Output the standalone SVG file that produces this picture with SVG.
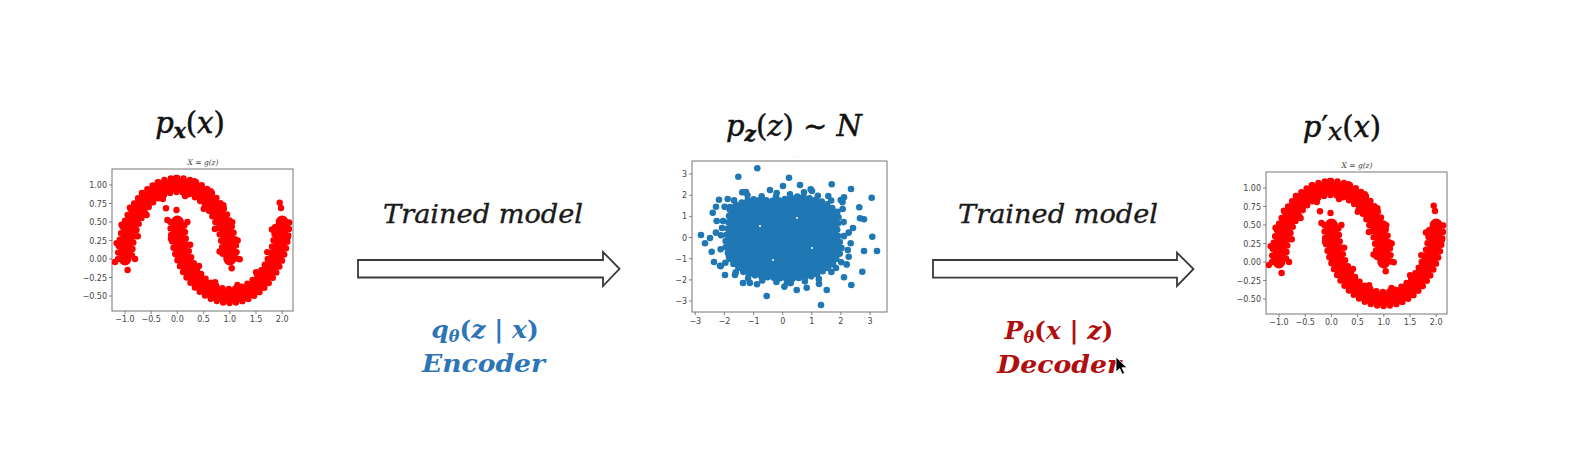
<svg xmlns="http://www.w3.org/2000/svg" xmlns:xlink="http://www.w3.org/1999/xlink" width="1594" height="455" viewBox="0 0 1594 455">
<style>
.frame{fill:#fff;stroke:#777;stroke-width:1}
.tick{stroke:#666;stroke-width:0.8}
.tl{font-family:"DejaVu Sans","Liberation Sans",sans-serif;font-size:8px;fill:#444}
.tle{text-anchor:end}
.tlm{text-anchor:middle}
.ptitle{font-family:"DejaVu Serif","Liberation Serif",serif;font-size:7.5px;font-style:italic;fill:#444;text-anchor:middle}
.mc{fill:none;stroke:#f00;stroke-width:13;stroke-linecap:round}
.md{fill:none;stroke:#f00;stroke-width:6.4;stroke-linecap:round;stroke-dasharray:0 6.5}
.ms{fill:none;stroke:#f00;stroke-width:6.4;stroke-linecap:round;stroke-dasharray:0 19}
.rd{fill:#f00}
.bd{fill:#1f77b4}
.bring{fill:none;stroke:#1f77b4;stroke-width:6.6;stroke-linecap:round;stroke-linejoin:round}
.head{font-family:"DejaVu Serif","Liberation Serif",serif;font-size:29px;fill:#111;stroke:#111;stroke-width:0.5;text-anchor:middle}
.it{font-style:italic}
.lbl{font-family:"DejaVu Serif","Liberation Serif",serif;font-size:26px;font-style:italic;fill:#1a1a1a;stroke:#1a1a1a;stroke-width:0.35;text-anchor:middle}
.enc{font-family:"DejaVu Serif","Liberation Serif",serif;font-size:25px;font-weight:bold;fill:#2e75b6;text-anchor:middle}
.dec{font-family:"DejaVu Serif","Liberation Serif",serif;font-size:25px;font-weight:bold;fill:#b00f0f;text-anchor:middle}
.arrow{fill:#fff;stroke:#3a3a3a;stroke-width:1.8;stroke-linejoin:miter}
</style>
<defs>
<g id="moonPlot">
<rect class="frame" x="112" y="169" width="181" height="142"/>
<text class="ptitle" x="203" y="165">X = g(z)</text>
<path class="tick" d="M109 185H112M109 203.5H112M109 222H112M109 240.5H112M109 259H112M109 277.5H112M109 296H112M125 311V314M151.2 311V314M177.4 311V314M203.6 311V314M229.8 311V314M256 311V314M282.2 311V314"/>
<text class="tl tle" x="107" y="188">1.00</text>
<text class="tl tle" x="107" y="206.5">0.75</text>
<text class="tl tle" x="107" y="225">0.50</text>
<text class="tl tle" x="107" y="243.5">0.25</text>
<text class="tl tle" x="107" y="262">0.00</text>
<text class="tl tle" x="107" y="280.5">−0.25</text>
<text class="tl tle" x="107" y="299">−0.50</text>
<text class="tl tlm" x="125" y="322">−1.0</text>
<text class="tl tlm" x="151.2" y="322">−0.5</text>
<text class="tl tlm" x="177.4" y="322">0.0</text>
<text class="tl tlm" x="203.6" y="322">0.5</text>
<text class="tl tlm" x="229.8" y="322">1.0</text>
<text class="tl tlm" x="256" y="322">1.5</text>
<text class="tl tlm" x="282.2" y="322">2.0</text>
<path class="mc" d="M125 259A52.4 74 0 0 1 229.8 259"/>
<path class="md" d="M118 259A59.4 81 0 0 1 236.8 259"/>
<path class="md" style="stroke-dashoffset:3" d="M132 259A45.4 67 0 0 1 222.8 259"/>
<path class="ms" d="M115 262A62.4 84 0 0 1 239.8 262"/>
<path class="ms" style="stroke-dasharray:0 23" d="M135 259A42.4 64 0 0 1 219.8 259"/>
<path class="mc" d="M177.4 222A52.4 74 0 0 0 282.2 222"/>
<path class="md" d="M170.4 222A59.4 81 0 0 0 289.2 222"/>
<path class="md" style="stroke-dashoffset:3" d="M184.4 222A45.4 67 0 0 0 275.2 222"/>
<path class="ms" d="M167.4 220A62.4 84 0 0 0 291 220"/>
<path class="ms" style="stroke-dasharray:0 23" d="M187.4 222A42.4 64 0 0 0 272.2 222"/>
<circle class="rd" cx="127.6" cy="270" r="3.2"/>
<circle class="rd" cx="166" cy="208.3" r="3.2"/>
<circle class="rd" cx="146" cy="205" r="3.2"/>
<circle class="rd" cx="279.7" cy="202.7" r="3.2"/>
<circle class="rd" cx="281" cy="208" r="3.2"/>
<circle class="rd" cx="223.3" cy="249" r="3.2"/>
<circle class="rd" cx="231.7" cy="268.3" r="3.2"/>
<circle class="rd" cx="177" cy="182" r="3.2"/>
<circle class="rd" cx="176.5" cy="210" r="3.2"/>
</g>
<path id="blob" d="M730 207L751 199L775 201L800 196L824 202L839 213L837 232L842 250L832 266L814 276L790 279L766 277L746 274L731 262L725 245L728 226Z"/>
</defs>

<g id="node-px">
<text class="head" x="190" y="133"><tspan class="it">p</tspan><tspan class="it" font-size="20" font-weight="bold" dy="5">x</tspan><tspan dy="-5">(</tspan><tspan class="it">x</tspan>)</text>
<use xlink:href="#moonPlot"/>
</g>

<g id="node-pz">
<text class="head" x="794" y="136"><tspan class="it">p</tspan><tspan class="it" font-size="20" font-weight="bold" dy="5">z</tspan><tspan dy="-5">(</tspan><tspan class="it">z</tspan>) ∼ <tspan class="it">N</tspan></text>
<text x="789" y="159" style="font-family:'DejaVu Sans',sans-serif;font-size:6px;fill:#bbb">· · ·</text>
<rect class="frame" x="692" y="161" width="195" height="151"/>
<path class="tick" d="M689 174H692M689 195.3H692M689 216.4H692M689 237.5H692M689 258.7H692M689 279.9H692M689 301H692M695.3 312V315M724.4 312V315M753.6 312V315M782.7 312V315M811.8 312V315M840.9 312V315M870 312V315"/>
<text class="tl tle" x="687" y="177">3</text>
<text class="tl tle" x="687" y="198.3">2</text>
<text class="tl tle" x="687" y="219.4">1</text>
<text class="tl tle" x="687" y="240.5">0</text>
<text class="tl tle" x="687" y="261.7">−1</text>
<text class="tl tle" x="687" y="282.9">−2</text>
<text class="tl tle" x="687" y="304">−3</text>
<text class="tl tlm" x="695.3" y="324">−3</text>
<text class="tl tlm" x="724.4" y="324">−2</text>
<text class="tl tlm" x="753.6" y="324">−1</text>
<text class="tl tlm" x="782.7" y="324">0</text>
<text class="tl tlm" x="811.8" y="324">1</text>
<text class="tl tlm" x="840.9" y="324">2</text>
<text class="tl tlm" x="870" y="324">3</text>
<use xlink:href="#blob" class="bd"/>
<use xlink:href="#blob" class="bring" style="stroke-dasharray:0 6.3"/>
<use xlink:href="#blob" class="bring" style="stroke-dasharray:0 13;stroke-dashoffset:4;stroke-width:6" transform="translate(781 238) scale(1.1) translate(-781 -238)"/>
<use xlink:href="#blob" class="bring" style="stroke-dasharray:0 29;stroke-dashoffset:9;stroke-width:5.6" transform="translate(781 238) scale(1.2) translate(-781 -238)"/>
<g class="bd">
<circle cx="757.3" cy="168.3" r="3.3"/><circle cx="738.3" cy="176.7" r="3.3"/><circle cx="789" cy="177.7" r="3.3"/>
<circle cx="800" cy="185" r="3.3"/><circle cx="831.7" cy="184.3" r="3.3"/><circle cx="851" cy="189" r="3.3"/>
<circle cx="871.7" cy="197.7" r="3.3"/><circle cx="701" cy="235" r="3.3"/><circle cx="710" cy="238" r="3.3"/>
<circle cx="719" cy="199.7" r="3.3"/><circle cx="727.7" cy="199" r="3.3"/><circle cx="716" cy="206.7" r="3.3"/>
<circle cx="712.7" cy="212.7" r="3.3"/><circle cx="716.7" cy="221" r="3.3"/><circle cx="859.3" cy="207.3" r="3.3"/>
<circle cx="860" cy="218.3" r="3.3"/><circle cx="864" cy="219.3" r="3.3"/><circle cx="872.3" cy="236.7" r="3.3"/>
<circle cx="877" cy="251" r="3.3"/><circle cx="864" cy="251" r="3.3"/><circle cx="862.3" cy="271.7" r="3.3"/>
<circle cx="851.3" cy="285" r="3.3"/><circle cx="826.7" cy="290" r="3.3"/><circle cx="821" cy="305" r="3.3"/>
<circle cx="766.7" cy="296" r="3.3"/><circle cx="757" cy="284.3" r="3.3"/><circle cx="720" cy="265.7" r="3.3"/>
<circle cx="714" cy="262" r="3.3"/><circle cx="725" cy="275" r="3.3"/><circle cx="735" cy="275" r="3.3"/>
<circle cx="844" cy="277.3" r="3.3"/><circle cx="850.7" cy="243.3" r="3.3"/><circle cx="848.7" cy="256.7" r="3.3"/>
<circle cx="806.7" cy="287.7" r="3.3"/><circle cx="796.7" cy="290" r="3.3"/><circle cx="711.7" cy="251.7" r="3.3"/>
<circle cx="705" cy="243.3" r="3.3"/><circle cx="828.3" cy="196" r="3.3"/><circle cx="840.7" cy="200" r="3.3"/>
<circle cx="844" cy="197.3" r="3.3"/><circle cx="770" cy="190" r="3.3"/><circle cx="746" cy="192" r="3.3"/>
<circle cx="812" cy="191" r="3.3"/><circle cx="853" cy="228" r="3.3"/><circle cx="722" cy="228" r="3.3"/>
<circle cx="729" cy="257" r="3.3"/><circle cx="743" cy="283" r="3.3"/><circle cx="787" cy="283" r="3.3"/>
<circle cx="836" cy="268" r="3.3"/><circle cx="783" cy="186" r="3.3"/>
</g>
<g fill="#fff">
<circle cx="760" cy="226" r="1.1"/><circle cx="797" cy="218" r="1"/><circle cx="812" cy="248" r="1.1"/>
<circle cx="773" cy="260" r="1"/>
</g>
</g>

<g id="node-pxprime">
<text class="head" x="1342" y="137"><tspan class="it">p</tspan>′<tspan class="it" font-size="25" dy="3">x</tspan><tspan dy="-3">(</tspan><tspan class="it">x</tspan>)</text>
<use xlink:href="#moonPlot" transform="translate(1154 3)"/>
</g>

<g id="connectors">
<g id="encoder-arrow">
<path class="arrow" d="M358 260H603V252L619.5 268.8L603 286V277.5H358Z"/>
<text class="lbl" x="483" y="223" textLength="200" lengthAdjust="spacingAndGlyphs">Trained model</text>
<text class="enc" x="485" y="338"><tspan class="it">q</tspan><tspan class="it" font-size="16" dy="4">θ</tspan><tspan dy="-4">(</tspan><tspan class="it">z</tspan> | <tspan class="it">x</tspan>)</text>
<text class="enc it" x="483.5" y="371.5" textLength="123" lengthAdjust="spacingAndGlyphs">Encoder</text>
</g>
<g id="decoder-arrow">
<path class="arrow" d="M933 260H1177V252.7L1193.5 269L1177 286V277.7H933Z"/>
<text class="lbl" x="1058" y="223" textLength="200" lengthAdjust="spacingAndGlyphs">Trained model</text>
<text class="dec" x="1059" y="339"><tspan class="it">P</tspan><tspan class="it" font-size="16" dy="4">θ</tspan><tspan dy="-4">(</tspan><tspan class="it">x</tspan> | <tspan class="it">z</tspan>)</text>
<text class="dec it" x="1059" y="373" textLength="124" lengthAdjust="spacingAndGlyphs">Decoder</text>
</g>
</g>
<path d="M1116 357l0 15l3.6-3.4l2.6 5.6l2.4-1.1l-2.6-5.4l5 0z" fill="#000" stroke="#fff" stroke-width="0.8"/>
</svg>
